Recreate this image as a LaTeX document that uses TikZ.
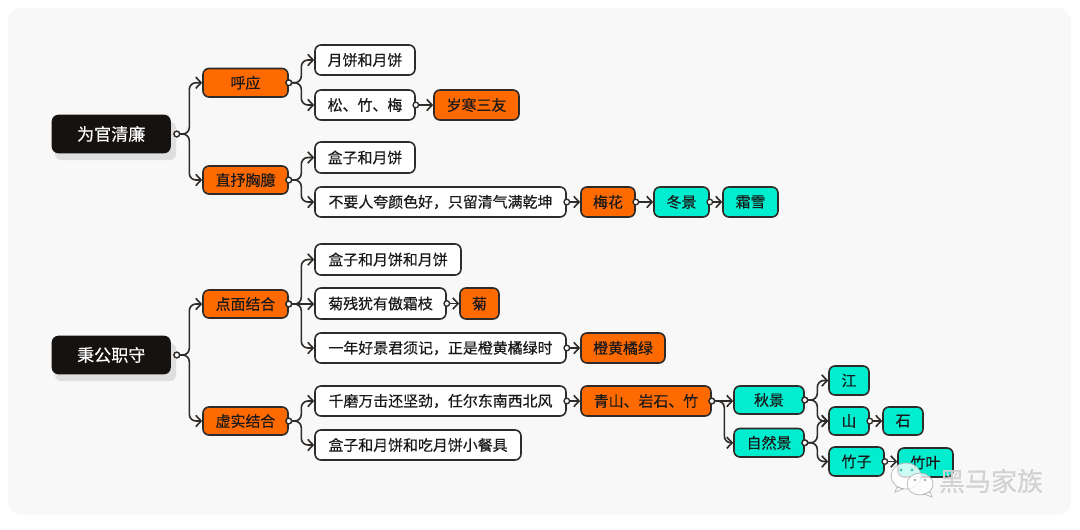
\documentclass[tikz,border=0pt]{standalone}
\usepackage{fontspec}
\setmainfont[FakeBold=0.35]{Noto Sans CJK SC}
\usetikzlibrary{arrows.meta,calc}
\definecolor{panelc}{HTML}{F8F8F8}
\definecolor{linec}{HTML}{2E2B29}
\definecolor{rootc}{HTML}{15120F}
\definecolor{orangec}{HTML}{FF6A00}
\definecolor{tealc}{HTML}{00EDD0}
\definecolor{shadowc}{HTML}{DFDFDF}
\tikzset{
  basebox/.style={draw=linec,line width=1.2pt,rounded corners=4.5pt,inner sep=0pt,font=\fontsize{11.2pt}{13pt}\selectfont,text=black!90},
  plainbox/.style={basebox,fill=white},
  orangebox/.style={basebox,fill=orangec},
  tealbox/.style={basebox,fill=tealc},
  rootbox/.style={basebox,fill=rootc,draw=rootc,text=white,font=\fontsize{12.8pt}{15pt}\selectfont},
  cn/.style={draw=linec,line width=1.2pt,rounded corners=5pt,-{Straight Barb[length=4pt,width=8.5pt,line width=1.2pt]}},
  dotc/.style={draw=linec,fill=white,line width=1pt},
  mark bubble/.style={fill=white,fill opacity=.8,draw=black!30,line width=.5pt}
}
\newcommand{\bx}[7]{\node[#6,minimum width={(#4-#2)*0.75pt},minimum height={(#5-#3)*0.75pt}] (#1) at ({(#2+#4)/2},{(#3+#5)/2}) {\raisebox{-.75pt}{#7}};}
\newcommand{\cnbend}[3][0]{%
  \coordinate (s) at ($(#2.east)+(#1,0)$);
  \coordinate (m) at ($(s)+(12.5,0)$);
  \draw[cn] (s) -- (m) -- (m |- #3.west) -- (#3.west);
  \fill[dotc,draw=linec] (s) circle (2.1pt);}
\newcommand{\cnstr}[2]{%
  \draw[cn] (#1.east) -- (#1.east -| #2.west);
  \fill[dotc,draw=linec] (#1.east) circle (2.1pt);}
\begin{document}
\begin{tikzpicture}[x=0.75pt,y=-0.75pt]
\useasboundingbox (0,0) rectangle (1080,529);
\fill[white] (0,0) rectangle (1080,529);
\fill[panelc,rounded corners=10pt] (8,8) rectangle (1071,515);
% root shadows
\fill[shadowc,rounded corners=4.5pt] (55,122) rectangle (176,160);
\fill[shadowc,rounded corners=4.5pt] (55,343) rectangle (176,381);
% nodes
\bx{ra}{52.5}{115.5}{170}{152.5}{rootbox}{为官清廉}
\bx{a1}{203}{68.5}{288}{97}{orangebox}{呼应}
\bx{a2}{203}{166}{288}{194}{orangebox}{直抒胸臆}
\bx{b1}{315}{45}{415}{75}{plainbox}{月饼和月饼}
\bx{b2}{315}{90}{415}{120}{plainbox}{松、竹、梅}
\bx{b3}{434}{90}{519}{120}{orangebox}{岁寒三友}
\bx{c1}{315}{142}{415}{173}{plainbox}{盒子和月饼}
\bx{c2}{315}{187}{566}{217}{plainbox}{不要人夸颜色好，只留清气满乾坤}
\bx{c3}{581}{187}{635}{217}{orangebox}{梅花}
\bx{c4}{654}{187}{709}{217}{tealbox}{冬景}
\bx{c5}{723}{187}{778}{217}{tealbox}{霜雪}
\bx{rb}{52.5}{336.5}{170}{373.5}{rootbox}{秉公职守}
\bx{d1}{203}{290}{288}{318}{orangebox}{点面结合}
\bx{d2}{203}{407}{288}{435}{orangebox}{虚实结合}
\bx{e1}{315}{244}{461}{275}{plainbox}{盒子和月饼和月饼}
\bx{e2}{315}{288}{446}{319}{plainbox}{菊残犹有傲霜枝}
\bx{e3}{460}{288}{499}{319}{orangebox}{菊}
\bx{e4}{315}{333}{566}{363}{plainbox}{一年好景君须记，正是橙黄橘绿时}
\bx{e5}{581}{333}{665}{363}{orangebox}{橙黄橘绿}
\bx{f1}{315}{386}{566}{416}{plainbox}{千磨万击还坚劲，任尔东南西北风}
\bx{f2}{315}{430}{521}{460}{plainbox}{盒子和月饼和吃月饼小餐具}
\bx{f3}{581}{386}{711}{416}{orangebox}{青山、岩石、竹}
\bx{g1}{734}{386}{804}{414}{tealbox}{秋景}
\bx{g2}{734}{428.5}{804}{457}{tealbox}{自然景}
\bx{h1}{829}{366}{869}{395}{tealbox}{江}
\bx{h2}{829}{407}{869}{435}{tealbox}{山}
\bx{h3}{883}{407}{923}{435}{tealbox}{石}
\bx{h4}{829}{447}{884}{476}{tealbox}{竹子}
\bx{h5}{898}{448}{953}{477}{tealbox}{竹叶}
% connectors
\cnbend[6]{ra}{a1}
\cnbend[6]{ra}{a2}
\cnbend{a1}{b1}
\cnbend{a1}{b2}
\cnstr{b2}{b3}
\cnbend{a2}{c1}
\cnbend{a2}{c2}
\cnstr{c2}{c3}
\cnstr{c3}{c4}
\cnstr{c4}{c5}
\cnbend[6]{rb}{d1}
\cnbend[6]{rb}{d2}
\cnbend{d1}{e1}
\cnstr{d1}{e2}
\cnbend{d1}{e4}
\cnstr{e2}{e3}
\cnstr{e4}{e5}
\cnbend{d2}{f1}
\cnbend{d2}{f2}
\cnstr{f1}{f3}
\cnstr{f3}{g1}
\cnbend{f3}{g2}
\cnbend{g1}{h1}
\cnbend{g1}{h2}
\cnbend{g2}{h2}
\cnbend{g2}{h4}
\cnstr{h2}{h3}
\cnstr{h4}{h5}
% watermark
\path[mark bubble] (906,476) ellipse [x radius=15,y radius=13];
\path[mark bubble] (897,487) -- (895,492) -- (903,489) -- cycle;
\path[mark bubble] (920,484) ellipse [x radius=13,y radius=11];
\path[mark bubble] (924,494) -- (932,497) -- (930,492) -- cycle;
\fill[tealc!70!black!70] (901,470) circle (1.6) (912,470) circle (1.6);
\fill[black!45] (915,480) circle (1.1) (925,480) circle (1.1);
\node[text=black!18,inner sep=0pt,font=\fontsize{19.5pt}{22pt}\selectfont] (wm) at (991,481) {黑马家族};
\end{tikzpicture}
\end{document}
